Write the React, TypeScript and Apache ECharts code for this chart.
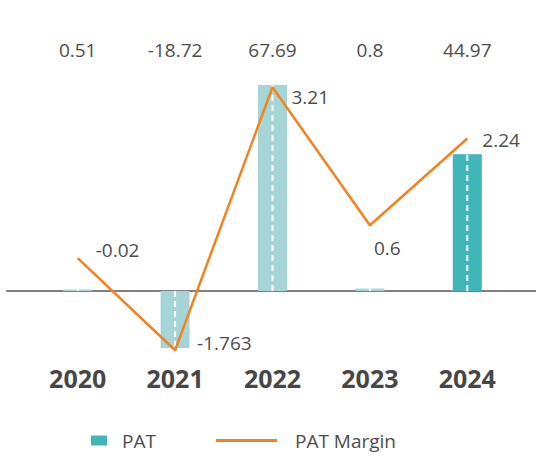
import React, { useEffect, useRef } from "react";
import * as echarts from "echarts";

const years = ["2020", "2021", "2022", "2023", "2024"];
const pat = [0.51, -18.72, 67.69, 0.8, 44.97];
const patTopLabels = ["0.51", "-18.72", "67.69", "0.8", "44.97"];
const patMargin = [-0.02, -1.763, 3.21, 0.6, 2.24];
const marginLabels = ["-0.02", "-1.763", "3.21", "0.6", "2.24"];

const LIGHT = "#a6d5d7";
const DARK = "#41b6b8";
const ORANGE = "#f5821f";
const FONT = "Open Sans";
const TEXT = "#4d4d4d";

// per-point label placement (style only)
const labelPlace = [
  { distance: 18, offset: [0, -8] },
  { distance: 22, offset: [0, -7] },
  { distance: 19, offset: [0, 10] },
  { distance: 4, offset: [0, 23] },
  { distance: 15, offset: [0, 1] },
];

export default function App() {
  const ref = useRef<HTMLDivElement>(null);
  useEffect(() => {
    if (!ref.current) return;
    const chart = echarts.init(ref.current, null, { renderer: "svg" });
    const option: any = {
      animation: false,
      backgroundColor: "#ffffff",
      textStyle: { fontFamily: FONT },
      grid: [
        { left: 29, right: 20, top: 60, height: 300 },
        { left: 7, right: 0, top: 60, height: 300 },
      ],
      legend: [
        {
          data: ["PAT"],
          left: 91,
          top: 431,
          padding: 0,
          itemWidth: 16,
          itemHeight: 10,
          icon: "rect",
          textStyle: { fontFamily: FONT, fontSize: 19, color: TEXT, padding: [0, 0, 0, 10] },
        },
        {
          data: ["PAT Margin"],
          left: 216,
          top: 431,
          padding: 0,
          itemWidth: 61,
          itemHeight: 3,
          icon: "rect",
          textStyle: { fontFamily: FONT, fontSize: 19, color: TEXT, padding: [0, 0, 0, 13] },
        },
      ],
      xAxis: [
        {
          type: "category",
          gridIndex: 0,
          data: years,
          position: "bottom",
          axisLine: { show: false },
          axisTick: { show: false },
          axisLabel: {
            margin: 3,
            fontFamily: FONT,
            fontSize: 25,
            fontWeight: "bold",
            color: "#474747",
            lineHeight: 30,
          },
        },
        {
          type: "category",
          gridIndex: 0,
          data: patTopLabels,
          position: "top",
          axisLine: { show: false },
          axisTick: { show: false },
          axisLabel: {
            margin: 0,
            fontFamily: FONT,
            fontSize: 19,
            color: TEXT,
            lineHeight: 20,
          },
        },
        {
          type: "value",
          gridIndex: 1,
          min: 0,
          max: 1,
          axisLine: { show: true, onZero: true, lineStyle: { color: "#808080", width: 2 } },
          axisTick: { show: false },
          axisLabel: { show: false },
          splitLine: { show: false },
        },
      ],
      yAxis: [
        {
          type: "value",
          gridIndex: 0,
          min: -22.67,
          max: 75.9,
          show: false,
          splitLine: { show: false },
        },
        {
          type: "value",
          gridIndex: 0,
          min: -1.947,
          max: 3.724,
          show: false,
          splitLine: { show: false },
        },
        {
          type: "value",
          gridIndex: 1,
          min: -22.67,
          max: 75.9,
          show: false,
          splitLine: { show: false },
        },
      ],
      series: [
        {
          name: "PAT",
          type: "bar",
          xAxisIndex: 0,
          yAxisIndex: 0,
          barWidth: 29,
          itemStyle: { color: DARK },
          z: 2,
          data: pat.map((v, i) => ({
            value: v,
            itemStyle: { color: i === pat.length - 1 ? DARK : LIGHT },
          })),
        },
        {
          name: "dash",
          type: "custom",
          xAxisIndex: 0,
          yAxisIndex: 0,
          z: 3,
          silent: true,
          data: pat.map((v, i) => [i, v]),
          renderItem: (params: any, api: any) => {
            const i = api.value(0);
            const v = api.value(1);
            const p0 = api.coord([i, 0]);
            const p1 = api.coord([i, v]);
            return {
              type: "line",
              shape: { x1: p0[0], y1: p0[1], x2: p1[0], y2: p1[1] },
              style: { stroke: "#ffffff", lineWidth: 2, lineDash: [6, 4] },
            };
          },
        },
        {
          name: "PAT Margin",
          type: "line",
          xAxisIndex: 0,
          yAxisIndex: 1,
          z: 4,
          showSymbol: true,
          symbol: "circle",
          symbolSize: 0,
          itemStyle: { color: ORANGE },
          lineStyle: { color: ORANGE, width: 2.5 },
          data: patMargin.map((v, i) => ({
            value: v,
            label: {
              show: true,
              position: "right",
              distance: labelPlace[i].distance,
              offset: labelPlace[i].offset,
              formatter: marginLabels[i],
              fontFamily: FONT,
              fontSize: 19,
              color: TEXT,
            },
          })),
        },
      ],
    };
    chart.setOption(option);
    return () => chart.dispose();
  }, []);
  return (
    <div
      ref={ref}
      style={{ position: "fixed", left: 0, top: 0, width: 536, height: 458 }}
    />
  );
}
